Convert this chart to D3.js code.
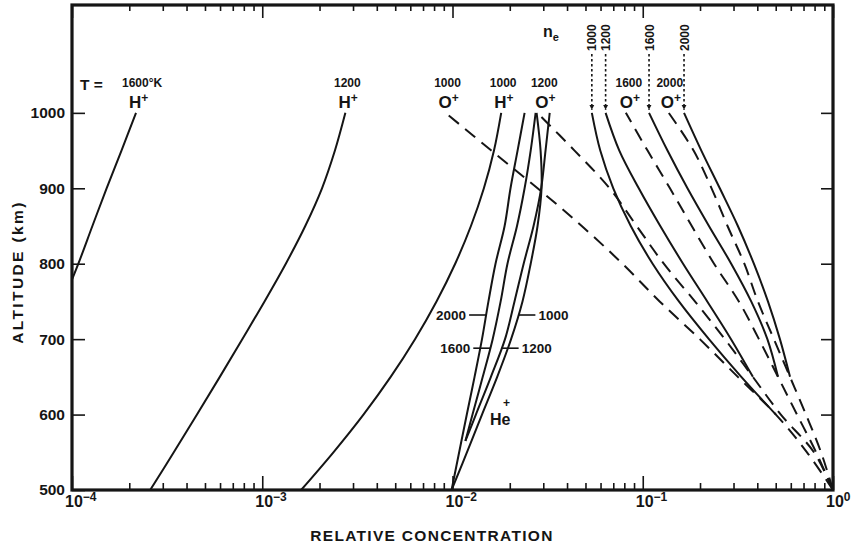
<!DOCTYPE html>
<html><head><meta charset="utf-8">
<script src="https://cdn.jsdelivr.net/npm/d3@7"></script>
<style>
body{margin:0;background:#fff}
text{font-family:"Liberation Sans",Arial,sans-serif;font-weight:bold;fill:#151515}
</style></head>
<body><svg id="c" width="854" height="548"></svg>
<script>
// ---------- data (relative concentration vs altitude, km) ----------
const altitudes   = [500, 550, 600, 650, 700, 750, 800, 850, 900, 950, 1000];
const heAltitudes = [500, 565, 600, 650, 700, 750, 800, 850, 900, 950, 1000];

// H+ (solid) for T = 1600, 1200, 1000 K
const hPlus1600 = [null, null, null, 6.3e-5, 7.6e-5, 9.0e-5, 1.08e-4, 1.28e-4, 1.52e-4, 1.82e-4, 2.17e-4];
const hPlus1200 = [2.576e-4, 3.428e-4, 4.539e-4, 5.984e-4, 7.852e-4, 1.028e-3, 1.330e-3, 1.683e-3, 2.061e-3, 2.410e-3, 2.735e-3];
const hPlus1000 = [1.60e-3, 2.366e-3, 3.404e-3, 4.732e-3, 6.353e-3, 8.241e-3, 1.033e-2, 1.250e-2, 1.462e-2, 1.652e-2, 1.803e-2];

// He+ (solid) for T = 2000, 1600, 1200, 1000 K  (on heAltitudes)
const hePlus2000 = [9.89e-3, 1.114e-2, 1.189e-2, 1.306e-2, 1.429e-2, 1.545e-2, 1.683e-2, 1.879e-2, 2.018e-2, 2.198e-2, 2.393e-2];
const hePlus1600 = [null, 1.169e-2, 1.274e-2, 1.442e-2, 1.626e-2, 1.791e-2, 1.945e-2, 2.183e-2, 2.393e-2, 2.576e-2, 2.735e-2];
const hePlus1200 = [null, 1.169e-2, 1.327e-2, 1.592e-2, 1.888e-2, 2.118e-2, 2.366e-2, 2.667e-2, 2.924e-2, 3.083e-2, 3.243e-2];
const hePlus1000 = [9.89e-3, 1.259e-2, 1.429e-2, 1.718e-2, 2.032e-2, 2.333e-2, 2.576e-2, 2.799e-2, 2.938e-2, 2.904e-2, 2.767e-2];

// O+ (dashed) for T = 1000, 1200, 1600, 2000 K
const oPlus1000 = [1.0, 0.730, 0.501, 0.316, 0.1995, 0.1227, 0.0782, 0.0478, 0.0280, 0.0160, 0.00919];
const oPlus1200 = [1.0, 0.794, 0.532, 0.379, 0.270, 0.188, 0.129, 0.0929, 0.0670, 0.0438, 0.0279];
const oPlus1600 = [1.0, 0.815, 0.647, 0.514, 0.408, 0.320, 0.237, 0.181, 0.139, 0.106, 0.0815];
const oPlus2000 = [1.0, 0.865, 0.721, 0.594, 0.489, 0.403, 0.342, 0.279, 0.230, 0.185, 0.137];

// solid curves labelled by n_e = 1000, 1200, 1600, 2000 (they join the dashed O+ curves below)
const ne1000 = [null, null, 0.501, 0.3296, 0.2228, 0.1549, 0.1127, 0.0865, 0.0700, 0.0598, 0.0540];
const ne1200 = [null, null, null, 0.3793, 0.2911, 0.2183, 0.1629, 0.1236, 0.0953, 0.0753, 0.0638];
const ne1600 = [null, null, null, 0.514, 0.4519, 0.3715, 0.2917, 0.2228, 0.1718, 0.1349, 0.1079];
const ne2000 = [null, null, null, 0.5943, 0.5260, 0.4550, 0.3837, 0.3162, 0.2541, 0.2032, 0.1648];

const yTicks = [500, 600, 700, 800, 900, 1000];
const xDecades = [1e-4, 1e-3, 1e-2, 1e-1, 1];
const xDecadeExp = ["-4", "-3", "-2", "-1", "0"];
const neLabels = ["1000", "1200", "1600", "2000"];
const heLabels = ["2000", "1600", "1200", "1000"];

// ---------- scales ----------
const svg = d3.select("#c");
const L = 72, R = 833, T = 5, B = 490;
const x = d3.scaleLog().domain([1e-4, 1]).range([L, R]);
const y = d3.scaleLinear().domain([500, 1143]).range([B, T]);

const minor = [];
xDecades.slice(0, 4).forEach(d => { for (let k = 2; k <= 9; k++) minor.push(d * k); });

const defs = svg.append("defs");
defs.append("clipPath").attr("id", "clip")
  .append("rect").attr("x", L).attr("y", T).attr("width", R - L).attr("height", B - T);
defs.append("marker").attr("id", "arr").attr("viewBox", "0 0 10 10").attr("refX", 10).attr("refY", 5)
  .attr("markerWidth", 5).attr("markerHeight", 6).attr("orient", "auto").attr("markerUnits", "userSpaceOnUse")
  .append("path").attr("d", "M0,0 L10,5 L0,10 Z").attr("fill", "#151515");

// ---------- axes ----------
function styleAxis(g) {
  g.select(".domain").remove();
  g.selectAll(".tick line").attr("stroke", "#151515").attr("stroke-width", 1.6);
}
svg.append("g").attr("transform", `translate(0,${B})`)
  .call(d3.axisBottom(x).tickValues(xDecades).tickSize(-14).tickFormat("")).call(styleAxis);
svg.append("g").attr("transform", `translate(0,${B})`)
  .call(d3.axisBottom(x).tickValues(minor).tickSize(-7).tickFormat("")).call(styleAxis);
svg.append("g").attr("transform", `translate(0,${T})`)
  .call(d3.axisTop(x).tickValues(xDecades).tickSize(-13).tickFormat("")).call(styleAxis);
svg.append("g").attr("transform", `translate(0,${T})`)
  .call(d3.axisTop(x).tickValues(minor).tickSize(-6).tickFormat("")).call(styleAxis);
const yl = svg.append("g").attr("transform", `translate(${L},0)`)
  .call(d3.axisLeft(y).tickValues(yTicks).tickSize(-13).tickPadding(7).tickFormat(d3.format("d")));
yl.call(styleAxis);
yl.selectAll(".tick text").attr("font-size", 15.5).attr("font-family", "Liberation Sans, Arial, sans-serif")
  .attr("font-weight", "bold").attr("fill", "#151515");
svg.append("g").attr("transform", `translate(${R},0)`)
  .call(d3.axisRight(y).tickValues(yTicks.slice(1)).tickSize(-12).tickFormat("")).call(styleAxis);

// decade labels 10^n
xDecades.forEach((d, i) => {
  const t = svg.append("text").attr("x", x(d) - 7).attr("y", 507).attr("font-size", 16);
  t.append("tspan").text("10");
  t.append("tspan").attr("font-size", 12).attr("dy", -6).text(xDecadeExp[i].replace("-", "\u2212"));
});

// frame
svg.append("rect").attr("x", L).attr("y", T).attr("width", R - L).attr("height", B - T)
  .attr("fill", "none").attr("stroke", "#151515").attr("stroke-width", 3.2);

// axis titles
svg.append("text").attr("transform", `translate(23,272) rotate(-90)`).attr("text-anchor", "middle")
  .attr("font-size", 15.5).attr("letter-spacing", 2.4).text("ALTITUDE (km)");
svg.append("text").attr("x", 432).attr("y", 541).attr("text-anchor", "middle")
  .attr("font-size", 15.5).attr("letter-spacing", 1.3).text("RELATIVE CONCENTRATION");

// ---------- curves ----------
const plot = svg.append("g").attr("clip-path", "url(#clip)");
function series(vals, alts) { return alts.map((a, i) => ({ alt: a, v: vals[i] })); }
const line = d3.line().defined(d => d.v != null).x(d => x(d.v)).y(d => y(d.alt)).curve(d3.curveCatmullRom.alpha(0.5));

const solid = [[hPlus1600, altitudes], [hPlus1200, altitudes], [hPlus1000, altitudes],
  [hePlus2000, heAltitudes], [hePlus1600, heAltitudes], [hePlus1200, heAltitudes], [hePlus1000, heAltitudes],
  [ne1000, altitudes], [ne1200, altitudes], [ne1600, altitudes], [ne2000, altitudes]];
solid.forEach(([v, a]) => plot.append("path").attr("d", line(series(v, a)))
  .attr("fill", "none").attr("stroke", "#151515").attr("stroke-width", 2));
[oPlus1000, oPlus1200, oPlus1600, oPlus2000].forEach(v => plot.append("path").attr("d", line(series(v, altitudes)))
  .attr("fill", "none").attr("stroke", "#151515").attr("stroke-width", 2).attr("stroke-dasharray", "13,8"));

// ---------- annotations ----------
const iTop = altitudes.length - 1;
function ionLabel(cx, name, num) {
  if (num) svg.append("text").attr("x", cx + 2).attr("y", 87).attr("text-anchor", "middle").attr("font-size", 12).text(num);
  const t = svg.append("text").attr("x", cx - 7).attr("y", 108).attr("font-size", 17);
  t.append("tspan").text(name);
  t.append("tspan").attr("font-size", 12).attr("dy", -6).text("+");
}
svg.append("text").attr("x", 80).attr("y", 90).attr("font-size", 15.5).text("T =");
svg.append("text").attr("x", 122).attr("y", 87).attr("font-size", 12).text("1600°K");
ionLabel(x(hPlus1600[iTop]), "H", null);
ionLabel(x(hPlus1200[iTop]), "H", "1200");
ionLabel(x(oPlus1000[iTop]), "O", "1000");
ionLabel(x(hPlus1000[iTop]), "H", "1000");
ionLabel(x(oPlus1200[iTop]) + 5, "O", "1200");
ionLabel(x(oPlus1600[iTop]) + 1, "O", "1600");
ionLabel(x(oPlus2000[iTop]) - 1, "O", "2000");

// n_e label and dotted arrows
const ne = svg.append("text").attr("x", 543).attr("y", 37).attr("font-size", 16);
ne.append("tspan").text("n");
ne.append("tspan").attr("font-size", 11).attr("dy", 4).text("e");
[ne1000, ne1200, ne1600, ne2000].forEach((s, i) => {
  const cx = x(s[iTop]);
  svg.append("text").attr("transform", `translate(${cx + 4.5},${51}) rotate(-90)`).attr("font-size", 12).text(neLabels[i]);
  svg.append("line").attr("x1", cx).attr("x2", cx).attr("y1", 54).attr("y2", y(1000) - 3)
    .attr("stroke", "#151515").attr("stroke-width", 1.6).attr("stroke-dasharray", "2.5,2.5")
    .attr("marker-end", "url(#arr)");
});

// He+ labels with leader ticks
function interp(vals, alts, a) {
  for (let i = 0; i < alts.length - 1; i++) {
    if (a >= alts[i] && a <= alts[i + 1] && vals[i] != null) {
      const f = (a - alts[i]) / (alts[i + 1] - alts[i]);
      return Math.exp(Math.log(vals[i]) * (1 - f) + Math.log(vals[i + 1]) * f);
    }
  }
  return null;
}
const heSeries = [hePlus2000, hePlus1600, hePlus1200, hePlus1000];
const heAlt = [732, 688, 688, 732];
heSeries.forEach((s, i) => {
  const a = heAlt[i], cx = x(interp(s, heAltitudes, a)), cy = y(a);
  const left = i < 2;
  const x2 = left ? cx - 17 : cx + 17;
  svg.append("line").attr("x1", cx).attr("x2", x2).attr("y1", cy).attr("y2", cy).attr("stroke", "#151515").attr("stroke-width", 1.6);
  svg.append("text").attr("x", left ? x2 - 3 : x2 + 3).attr("y", cy + 5).attr("text-anchor", left ? "end" : "start")
    .attr("font-size", 13.5).text(heLabels[i]);
});
svg.append("text").attr("x", 490).attr("y", 425).attr("font-size", 16).text("He");
svg.append("text").attr("x", 503).attr("y", 407).attr("font-size", 12).text("+");
</script></body></html>
